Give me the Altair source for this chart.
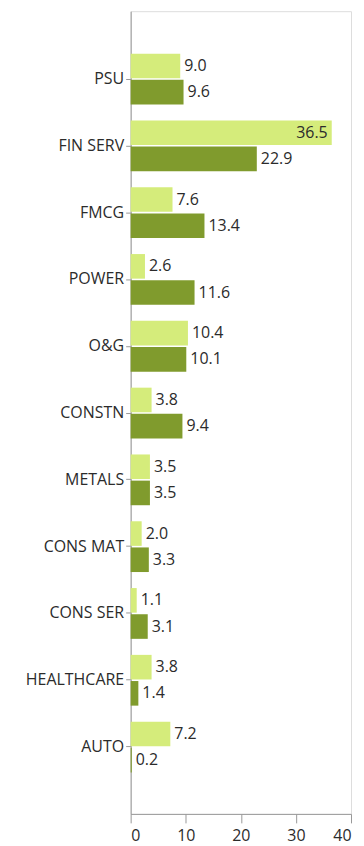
import altair as alt
import pandas as pd

categories = ["PSU", "FIN SERV", "FMCG", "POWER", "O&G", "CONSTN", "METALS",
              "CONS MAT", "CONS SER", "HEALTHCARE", "AUTO"]
series_names = ["Series 1", "Series 2"]
light_values = [9.0, 36.5, 7.6, 2.6, 10.4, 3.8, 3.5, 2.0, 1.1, 3.8, 7.2]
dark_values = [9.6, 22.9, 13.4, 11.6, 10.1, 9.4, 3.5, 3.3, 3.1, 1.4, 0.2]
x_ticks = [0, 10, 20, 30, 40]

rows = []
for c, a, b in zip(categories, light_values, dark_values):
    rows.append({"cat": c, "series": series_names[0], "value": a})
    rows.append({"cat": c, "series": series_names[1], "value": b})
df = pd.DataFrame(rows)

FONT = "Open Sans"
TXT = "#2b2b2b"

y = alt.Y("cat:N", sort=categories, title=None,
          scale=alt.Scale(paddingInner=0.24, paddingOuter=0.628, align=0.506),
          axis=alt.Axis(labelFont=FONT, labelFontSize=16, labelColor=TXT,
                        domainColor="#999999", tickColor="#999999", tickSize=5,
                        labelPadding=2))
x = alt.X("value:Q", title=None,
          scale=alt.Scale(domain=[0, 40], nice=False),
          axis=alt.Axis(values=x_ticks, grid=False, labelFont=FONT, labelFontSize=16,
                        labelColor=TXT, domainColor="#999999", tickColor="#999999",
                        tickSize=9, labelPadding=5))
yoff = alt.YOffset("series:N", sort=series_names,
                   scale=alt.Scale(paddingInner=0.06, paddingOuter=0))
color = alt.Color("series:N", sort=series_names, legend=None,
                  scale=alt.Scale(domain=series_names, range=["#d5ec7b", "#809b2d"]))

base = alt.Chart(df).encode(y=y, yOffset=yoff)

bars = base.mark_bar().encode(x=x, color=color)

labels_out = base.transform_filter("datum.value < 30").mark_text(
    align="left", baseline="middle", dx=4, font=FONT, fontSize=16, color=TXT
).encode(x="value:Q", text=alt.Text("value:Q", format=".1f"))

labels_in = base.transform_filter("datum.value >= 30").mark_text(
    align="right", baseline="middle", dx=-4, font=FONT, fontSize=16, color=TXT
).encode(x="value:Q", text=alt.Text("value:Q", format=".1f"))

chart = (bars + labels_out + labels_in).properties(
    width=221, height=805,
    autosize=alt.AutoSizeParams(type="none"),
    padding={"left": 123, "top": 2, "right": 5, "bottom": 31},
).configure_view(stroke=None).configure(background="white")

chart.save("out.html", embed_options={"renderer": "svg", "actions": False})
